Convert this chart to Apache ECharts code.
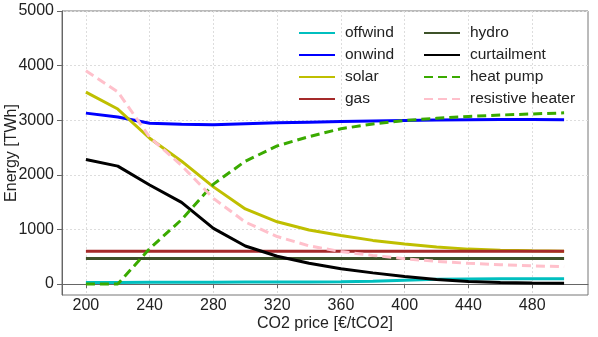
<!DOCTYPE html>
<html>
<head>
<meta charset="utf-8">
<script src="https://cdn.jsdelivr.net/npm/echarts@6/dist/echarts.min.js"></script>
<style>
  html, body {margin: 0; padding: 0; background: #fff;}
  #main {width: 598px; height: 337px;}
</style>
</head>
<body>
<div id="main"></div>
<script>
// CO2 price steps
var co2Price = [200, 220, 240, 260, 280, 300, 320, 340, 360, 380, 400, 420, 440, 460, 480, 500];
var xTicks = [200, 240, 280, 320, 360, 400, 440, 480];
var yTicks = [0, 1000, 2000, 3000, 4000, 5000];

var offwind = [30, 30, 33, 35, 35, 38, 40, 40, 42, 50, 70, 88, 95, 97, 97, 97];
var onwind = [3130, 3060, 2945, 2925, 2915, 2935, 2955, 2965, 2975, 2985, 2995, 3005, 3010, 3012, 3012, 3010];
var solar = [3515, 3205, 2670, 2250, 1780, 1375, 1140, 990, 890, 800, 735, 680, 640, 620, 608, 600];
var gas = [600, 600, 600, 600, 600, 600, 600, 600, 600, 600, 600, 600, 600, 600, 600, 600];
var hydro = [470, 470, 470, 470, 470, 470, 470, 470, 470, 470, 470, 470, 470, 470, 470, 470];
var curtailment = [2280, 2160, 1815, 1495, 1020, 698, 510, 380, 282, 205, 138, 85, 45, 30, 20, 15];
var heatPump = [0, 0, 650, 1180, 1830, 2250, 2530, 2700, 2845, 2930, 2995, 3035, 3070, 3095, 3115, 3135];
var resistiveHeater = [3905, 3520, 2690, 2170, 1570, 1135, 870, 700, 595, 525, 465, 415, 380, 355, 335, 318];

var FONT = 'Liberation Sans, Arial, sans-serif';

function mk(name, data, color, dashed) {
    return {
        name: name, type: 'line', symbol: 'none', silent: true,
        data: co2Price.map(function (x, i) { return [x, data[i]]; }),
        lineStyle: {width: 3, color: color, type: dashed ? [9, 5] : 'solid', cap: 'butt'},
        itemStyle: {color: color}
    };
}

function legendCol(names, left) {
    return {
        data: names,
        orient: 'vertical', left: left, top: 25, padding: 0,
        itemWidth: 36, itemHeight: 16, itemGap: 6,
        itemStyle: {opacity: 0},
        textStyle: {fontSize: 15.5, fontFamily: FONT, color: '#222', padding: [0, 0, 0, 5]}
    };
}

var myChart = echarts.init(document.getElementById('main'));
var option = {
    animation: false,
    textStyle: {fontFamily: FONT},
    grid: {left: 62, right: 10, top: 11, bottom: 42, outerBoundsMode: 'none', containLabel: false,
        show: true, borderColor: '#777', borderWidth: 1},
    legend: [
        legendCol(['offwind', 'onwind', 'solar', 'gas'], 298),
        legendCol(['hydro', 'curtailment', 'heat pump', 'resistive heater'], 423)
    ],
    xAxis: {
        type: 'value', min: 185, max: 515,
        name: 'CO2 price [€/tCO2]', nameLocation: 'middle', nameGap: 21, nameMoveOverlap: false,
        nameTextStyle: {fontSize: 16, fontFamily: FONT, color: '#222'},
        axisLine: {show: true, lineStyle: {color: '#666'}},
        axisTick: {show: true, length: 4, lineStyle: {color: '#666'}, customValues: xTicks},
        axisLabel: {fontSize: 16, fontFamily: FONT, color: '#222', margin: 3, customValues: xTicks,
            formatter: function (v) { return String(v); }},
        splitLine: {show: true, lineStyle: {color: '#ddd', type: [2, 2]}}
    },
    yAxis: {
        type: 'value', min: -200, max: 5000,
        name: 'Energy [TWh]', nameLocation: 'middle', nameGap: 42, nameMoveOverlap: false,
        nameTextStyle: {fontSize: 16, fontFamily: FONT, color: '#222'},
        axisLine: {show: true, lineStyle: {color: '#666'}},
        axisTick: {show: true, length: 5, lineStyle: {color: '#666'}, customValues: yTicks},
        axisLabel: {fontSize: 16, fontFamily: FONT, color: '#222', margin: 8, customValues: yTicks,
            formatter: function (v) { return String(v); }},
        splitLine: {show: true, lineStyle: {color: '#ddd', type: [2, 2]}}
    },
    series: [
        mk('offwind', offwind, '#00bfbf', false),
        mk('onwind', onwind, '#0000ff', false),
        mk('solar', solar, '#bfbf00', false),
        mk('gas', gas, '#a52a2a', false),
        mk('hydro', hydro, '#3d5229', false),
        mk('curtailment', curtailment, '#000000', false),
        mk('heat pump', heatPump, '#3aaa00', true),
        mk('resistive heater', resistiveHeater, '#ffc0cb', true)
    ]
};
myChart.setOption(option);
</script>
</body>
</html>
